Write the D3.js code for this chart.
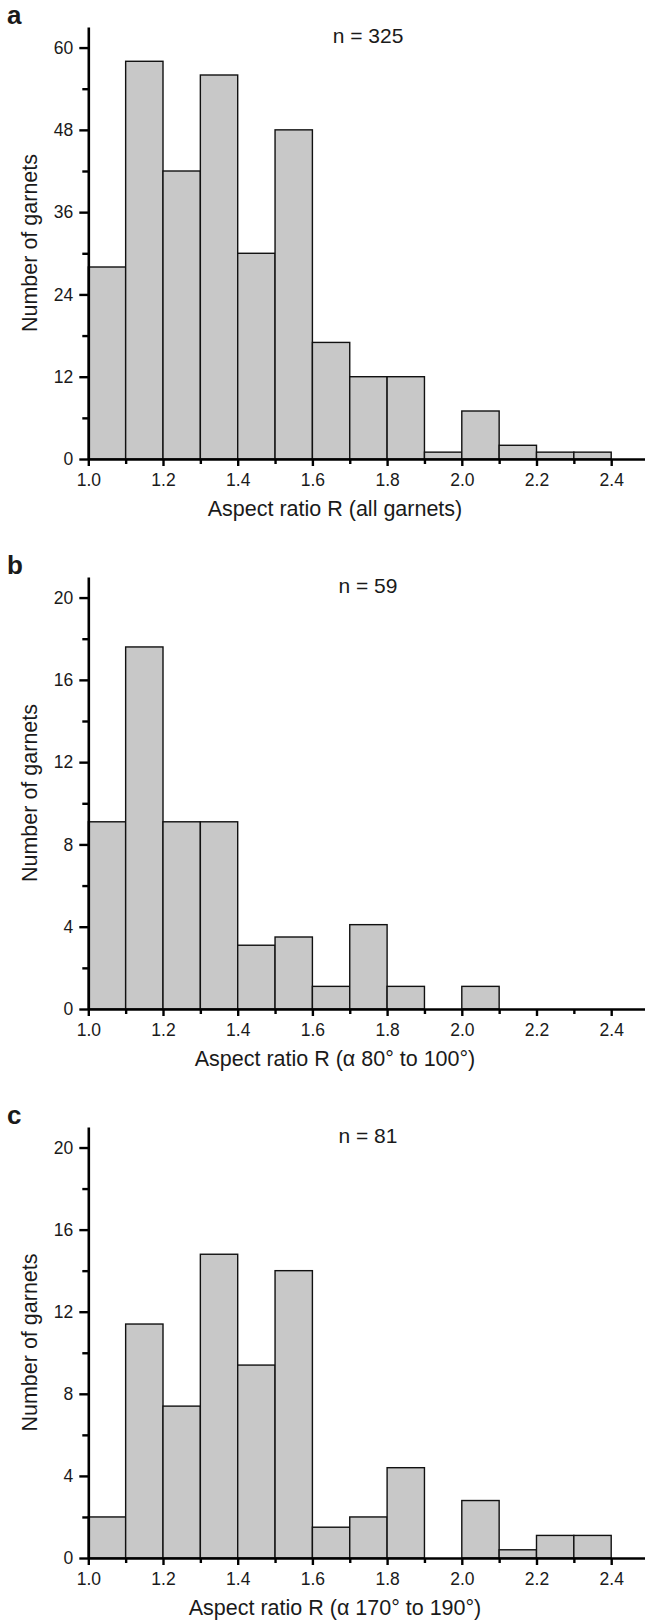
<!DOCTYPE html>
<html>
<head>
<meta charset="utf-8">
<script src="https://cdn.jsdelivr.net/npm/d3@7"></script>
<style>
  html, body { margin: 0; padding: 0; background: #fff; }
  svg { display: block; }
  text { font-family: "Liberation Sans", Arial, sans-serif; fill: #1a1a1a; }
</style>
</head>
<body>
<svg id="chart" width="645" height="1622"></svg>
<script>
// ---------- data ----------
const binStarts = [1.0, 1.1, 1.2, 1.3, 1.4, 1.5, 1.6, 1.7, 1.8, 1.9, 2.0, 2.1, 2.2, 2.3];
const binWidth = 0.1;
const countsA = [28, 58, 42, 56, 30, 48, 17, 12, 12, 1, 7, 2, 1, 1];
const countsB = [9.1, 17.6, 9.1, 9.1, 3.1, 3.5, 1.1, 4.1, 1.1, 0, 1.1, 0, 0, 0];
const countsC = [2.0, 11.4, 7.4, 14.8, 9.4, 14.0, 1.5, 2.0, 4.4, 0, 2.8, 0.4, 1.1, 1.1];
const yTicksA = [0, 12, 24, 36, 48, 60];
const yMinorA = [6, 18, 30, 42, 54];
const yTicksBC = [0, 4, 8, 12, 16, 20];
const yMinorBC = [2, 6, 10, 14, 18];
const xTickLabels = ["1.0", "1.2", "1.4", "1.6", "1.8", "2.0", "2.2", "2.4"];
const xMinor = [1.1, 1.3, 1.5, 1.7, 1.9, 2.1, 2.3];
const panelLetters = ["a", "b", "c"];
const nLabels = ["n = 325", "n = 59", "n = 81"];
const xTitles = ["Aspect ratio R (all garnets)", "Aspect ratio R (α 80° to 100°)", "Aspect ratio R (α 170° to 190°)"];
const yTitle = "Number of garnets";

// ---------- layout ----------
const panels = [
  { counts: countsA, yMax: 63, ticks: yTicksA, minor: yMinorA, top: 27, bottom: 459 },
  { counts: countsB, yMax: 21, ticks: yTicksBC, minor: yMinorBC, top: 577, bottom: 1009 },
  { counts: countsC, yMax: 21, ticks: yTicksBC, minor: yMinorBC, top: 1127, bottom: 1558 }
];
const left = 88.3;
const x = d3.scaleLinear().domain([1.0, 2.4]).range([left, 611.2]);
const xEnd = 645;

const svg = d3.select("#chart");

panels.forEach((p, i) => {
  const g = svg.append("g");
  const y = d3.scaleLinear().domain([0, p.yMax]).range([p.bottom, p.top]);

  // bars
  g.selectAll("rect.bar")
    .data(binStarts.map((s, k) => ({ s, v: p.counts[k] })).filter(d => d.v > 0))
    .enter().append("rect")
    .attr("class", "bar")
    .attr("x", d => x(d.s))
    .attr("width", d => x(d.s + binWidth) - x(d.s))
    .attr("y", d => y(d.v))
    .attr("height", d => y(0) - y(d.v))
    .attr("fill", "#c8c8c8")
    .attr("stroke", "#111")
    .attr("stroke-width", 1.4);

  // y axis
  const yAxis = g.append("g").attr("transform", `translate(${left},0)`)
    .call(d3.axisLeft(y).tickValues(p.ticks).tickSize(9).tickSizeOuter(0).tickPadding(6).tickFormat(d3.format("d")));
  const yMinorAxis = g.append("g").attr("transform", `translate(${left},0)`)
    .call(d3.axisLeft(y).tickValues(p.minor).tickSize(6).tickSizeOuter(0).tickFormat(""));
  yMinorAxis.select(".domain").remove();

  // x axis
  const xAxisScale = d3.scaleLinear().domain([1.0, 1.0 + (xEnd - left) / (x(1.1) - x(1.0)) * 0.1]).range([left, xEnd]);
  const xAxis = g.append("g").attr("transform", `translate(0,${p.bottom})`)
    .call(d3.axisBottom(xAxisScale).tickValues(xTickLabels.map(Number)).tickSize(7).tickSizeOuter(0).tickPadding(8).tickFormat(d3.format(".1f")));
  const xMinorAxis = g.append("g").attr("transform", `translate(0,${p.bottom})`)
    .call(d3.axisBottom(xAxisScale).tickValues(xMinor).tickSize(5).tickSizeOuter(0).tickFormat(""));
  xMinorAxis.select(".domain").remove();

  [yAxis, yMinorAxis, xAxis, xMinorAxis].forEach(a => {
    a.selectAll(".domain").attr("stroke", "#000").attr("stroke-width", 2.6);
    a.selectAll(".tick line").attr("stroke", "#000").attr("stroke-width", 2.4);
    a.selectAll(".tick text").attr("font-size", 17.5).attr("fill", "#1a1a1a")
      .attr("font-family", "'Liberation Sans', Arial, sans-serif");
  });

  // panel letter
  svg.append("text")
    .attr("x", 7).attr("y", p.top - 3)
    .attr("font-size", 26).attr("font-weight", "bold").attr("fill", "#000")
    .text(panelLetters[i]);

  // n label
  svg.append("text")
    .attr("x", 368).attr("y", p.top + 16)
    .attr("text-anchor", "middle").attr("font-size", 21)
    .text(nLabels[i]);

  // x title
  svg.append("text")
    .attr("x", 335).attr("y", p.bottom + 57)
    .attr("text-anchor", "middle").attr("font-size", 21.5)
    .text(xTitles[i]);

  // y title
  const cy = (p.top + p.bottom) / 2;
  svg.append("text")
    .attr("transform", `translate(37,${cy}) rotate(-90)`)
    .attr("text-anchor", "middle").attr("font-size", 21.5)
    .text(yTitle);
});
</script>
</body>
</html>
